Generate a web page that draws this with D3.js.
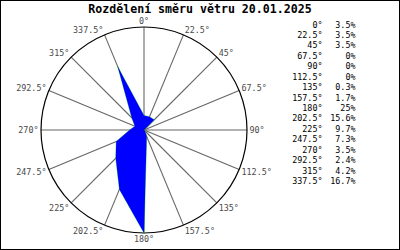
<!DOCTYPE html>
<html>
<head>
<meta charset="utf-8">
<script src="https://cdn.jsdelivr.net/npm/d3@7"></script>
<style>
  html, body { margin: 0; padding: 0; background: #fff; }
  svg { display: block; }
</style>
</head>
<body>
<svg id="chart" width="400" height="250"></svg>
<script>
const title = "Rozdělení směru větru 20.01.2025";
const directions = [0, 22.5, 45, 67.5, 90, 112.5, 135, 157.5, 180, 202.5, 225, 247.5, 270, 292.5, 315, 337.5];
const values = [3.5, 3.5, 3.5, 0, 0, 0, 0.3, 1.7, 25, 15.6, 9.7, 7.3, 3.5, 2.4, 4.2, 16.7];

const W = 400, H = 250;
const cx = 144, cy = 130, R = 103;
const svg = d3.select("#chart");

svg.append("rect").attr("x", 0.5).attr("y", 0.5).attr("width", W - 1).attr("height", H - 1)
  .attr("fill", "#fff").attr("stroke", "#000").attr("stroke-width", 1);

svg.append("text").attr("x", 200).attr("y", 13)
  .attr("text-anchor", "middle")
  .attr("font-family", "DejaVu Sans Mono, monospace")
  .attr("font-weight", "bold").attr("font-size", 11.6)
  .attr("fill", "#000").text(title);

const r = d3.scaleLinear().domain([0, d3.max(values)]).range([0, R]);
const ang = d => d * Math.PI / 180;

const g = svg.append("g").attr("transform", `translate(${cx},${cy})`);

// spokes
g.selectAll("line.spoke").data(directions).join("line")
  .attr("class", "spoke")
  .attr("x1", 0).attr("y1", 0)
  .attr("x2", d => R * Math.sin(ang(d)))
  .attr("y2", d => -R * Math.cos(ang(d)))
  .attr("stroke", "#666").attr("stroke-width", 1.1);

// outer circle
g.append("circle").attr("r", R).attr("fill", "none")
  .attr("stroke", "#000").attr("stroke-width", 1.2);

// direction labels
const LR = R + 2, th = 7;
g.selectAll("text.lab").data(directions).join("text")
  .attr("class", "lab")
  .attr("x", d => LR * Math.sin(ang(d)) + (d > 0 && d < 180 ? 0.5 : (d > 180 ? -0.5 : 0)))
  .attr("y", d => -LR * Math.cos(ang(d)) - Math.cos(ang(d)) * th / 2 + (d > 90 && d < 270 ? 1 : 0))
  .attr("dy", "0.35em")
  .attr("text-anchor", d => (d === 0 || d === 180) ? "middle" : (d < 180 ? "start" : "end"))
  .attr("font-family", "DejaVu Sans Mono, monospace").attr("font-size", 8.4)
  .attr("fill", "#4a4a4a")
  .text(d => d + "°");

// data polygon
const line = d3.lineRadial()
  .angle((v, i) => ang(directions[i]))
  .radius(v => r(v))
  .curve(d3.curveLinearClosed);

g.append("path").attr("d", line(values))
  .attr("fill", "none").attr("stroke", "#00e000").attr("stroke-width", 0.5);
g.append("path").attr("d", line(values))
  .attr("fill", "#0000ff").attr("stroke", "none");

// legend
const legY0 = 24.7, legDy = 10.42;
const leg = svg.append("g")
  .attr("font-family", "DejaVu Sans Mono, monospace").attr("font-size", 8.4).attr("fill", "#000");
leg.selectAll("text.ld").data(directions).join("text")
  .attr("class", "ld")
  .attr("x", 322.5).attr("y", (d, i) => legY0 + i * legDy).attr("dy", "0.35em")
  .attr("text-anchor", "end").text(d => d + "°");
leg.selectAll("text.lv").data(values).join("text")
  .attr("class", "lv")
  .attr("x", 355.5).attr("y", (d, i) => legY0 + i * legDy).attr("dy", "0.35em")
  .attr("text-anchor", "end").text(v => v + "%");
</script>
</body>
</html>
